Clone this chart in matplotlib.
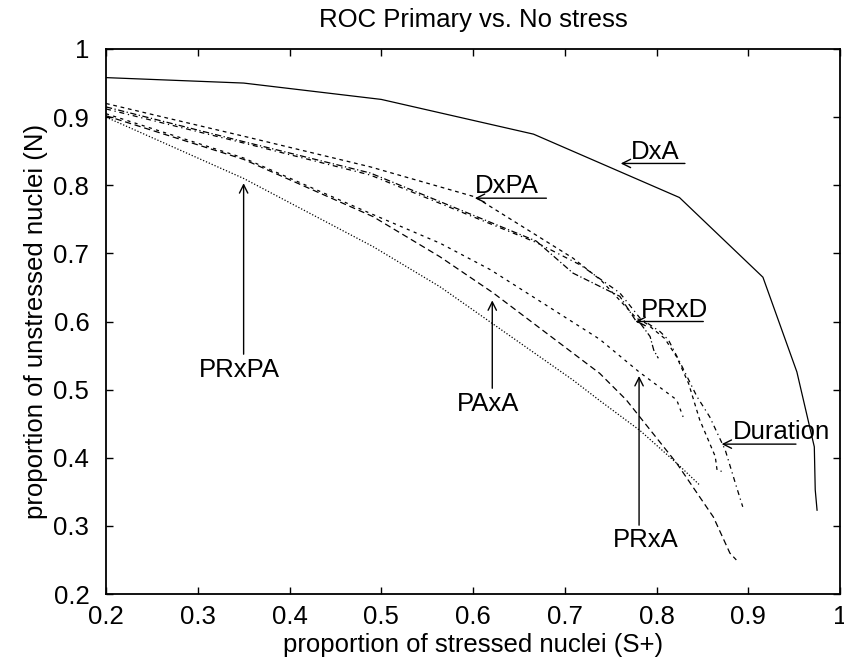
import matplotlib
matplotlib.use("Agg")
import matplotlib.pyplot as plt

plt.rcParams['font.family'] = ['Liberation Sans', 'DejaVu Sans']

# ---- data ----
dxa_x = [0.2, 0.35, 0.5, 0.666, 0.825, 0.916, 0.953, 0.972, 0.973, 0.975]
dxa_y = [0.958, 0.950, 0.926, 0.875, 0.782, 0.665, 0.526, 0.416, 0.353, 0.323]

dxpa_x = [0.2, 0.35, 0.488, 0.602, 0.709, 0.74, 0.778, 0.789, 0.809, 0.822, 0.835, 0.847, 0.864, 0.866, 0.871]
dxpa_y = [0.920, 0.872, 0.827, 0.783, 0.693, 0.66, 0.605, 0.597, 0.575, 0.548, 0.509, 0.456, 0.402, 0.382, 0.380]

prxd_x = [0.2, 0.35, 0.488, 0.669, 0.709, 0.760, 0.778, 0.782, 0.793, 0.797, 0.802]
prxd_y = [0.915, 0.864, 0.818, 0.718, 0.671, 0.637, 0.600, 0.598, 0.578, 0.558, 0.546]

dur_x = [0.2, 0.35, 0.488, 0.669, 0.717, 0.760, 0.782, 0.804, 0.813, 0.826, 0.844, 0.858, 0.875, 0.887, 0.894]
dur_y = [0.912, 0.862, 0.815, 0.716, 0.683, 0.642, 0.605, 0.585, 0.573, 0.539, 0.490, 0.460, 0.411, 0.358, 0.328]

paxa_x = [0.2, 0.35, 0.491, 0.564, 0.622, 0.738, 0.767, 0.822, 0.862, 0.880, 0.887]
paxa_y = [0.902, 0.838, 0.754, 0.695, 0.642, 0.524, 0.485, 0.392, 0.313, 0.260, 0.250]

prxa_x = [0.2, 0.35, 0.491, 0.564, 0.619, 0.738, 0.781, 0.822, 0.829]
prxa_y = [0.905, 0.840, 0.757, 0.715, 0.676, 0.574, 0.526, 0.485, 0.460]

prxpa_x = [0.2, 0.35, 0.491, 0.564, 0.709, 0.738, 0.782, 0.822, 0.847]
prxpa_y = [0.900, 0.810, 0.710, 0.651, 0.514, 0.484, 0.440, 0.392, 0.360]

x_ticks = [0.2, 0.3, 0.4, 0.5, 0.6, 0.7, 0.8, 0.9, 1.0]
x_tick_labels = ['0.2', '0.3', '0.4', '0.5', '0.6', '0.7', '0.8', '0.9', '1']
y_ticks = [0.2, 0.3, 0.4, 0.5, 0.6, 0.7, 0.8, 0.9, 1.0]
y_tick_labels = ['0.2', '0.3', '0.4', '0.5', '0.6', '0.7', '0.8', '0.9', '1']

# horizontal labels: (text, text_x, text_y, arrow_tail_x, arrow_tip_x, arrow_y)
h_labels = [
    ('DxA', 0.772, 0.839, 0.831, 0.761, 0.832),
    ('DxPA', 0.602, 0.789, 0.680, 0.602, 0.781),
    ('PRxD', 0.783, 0.607, 0.851, 0.777, 0.600),
    ('Duration', 0.883, 0.428, 0.952, 0.871, 0.420),
]
# vertical labels: (text, text_x, text_y, arrow_x, tail_y, tip_y)
v_labels = [
    ('PRxA', 0.788, 0.269, 0.781, 0.301, 0.520),
    ('PRxPA', 0.3455, 0.519, 0.350, 0.552, 0.803),
    ('PAxA', 0.6163, 0.468, 0.621, 0.502, 0.631),
]

# ---- figure ----
fig = plt.figure(figsize=(8.44, 6.61), dpi=100)
ax = fig.add_axes([106/844, 1-594/661, 734/844, 545/661])

lw = 0.9
ax.plot(dxa_x, dxa_y, color='black', lw=lw, solid_joinstyle='miter')
ax.plot(dxpa_x, dxpa_y, color='black', lw=lw, dashes=(3, 3))
ax.plot(prxd_x, prxd_y, color='black', lw=lw, dashes=(5, 2, 1, 2))
ax.plot(dur_x, dur_y, color='black', lw=lw, dashes=(4, 3, 1, 3))
ax.plot(paxa_x, paxa_y, color='black', lw=lw, dashes=(5, 3))
ax.plot(prxa_x, prxa_y, color='black', lw=lw, dashes=(2.5, 3.5))
ax.plot(prxpa_x, prxpa_y, color='black', lw=lw, dashes=(1, 1.5))

fs = 18.5
aprops = dict(arrowstyle='->,head_length=0.6,head_width=0.3', color='black', lw=1.0,
              shrinkA=0, shrinkB=0)
for txt, tx, ty, x0, x1, ay in h_labels:
    ax.annotate('', xy=(x1, ay), xytext=(x0, ay), arrowprops=aprops)
    ax.text(tx, ty, txt, ha='left', va='baseline', fontsize=fs)
for txt, tx, ty, ax_x, y0, y1 in v_labels:
    ax.annotate('', xy=(ax_x, y1), xytext=(ax_x, y0), arrowprops=aprops)
    ax.text(tx, ty, txt, ha='center', va='baseline', fontsize=fs)

ax.set_xlim(0.2, 1.0)
ax.set_ylim(0.2, 1.0)
ax.set_xticks(x_ticks)
ax.set_xticklabels(x_tick_labels)
ax.set_yticks(y_ticks)
ax.set_yticklabels(y_tick_labels)
ax.tick_params(direction='in', length=5, width=1, top=True, right=True,
               labelsize=fs)
ax.tick_params(axis='y', pad=12)
ax.tick_params(axis='x', pad=8)
for s in ax.spines.values():
    s.set_linewidth(1.3)

ax.set_title('ROC Primary vs. No stress', fontsize=fs, pad=16)
ax.set_xlabel('proportion of stressed nuclei (S+)', fontsize=fs, labelpad=3)
ax.set_ylabel('proportion of unstressed nuclei (N)', fontsize=fs, labelpad=4)

fig.savefig('out.png', dpi=100)
